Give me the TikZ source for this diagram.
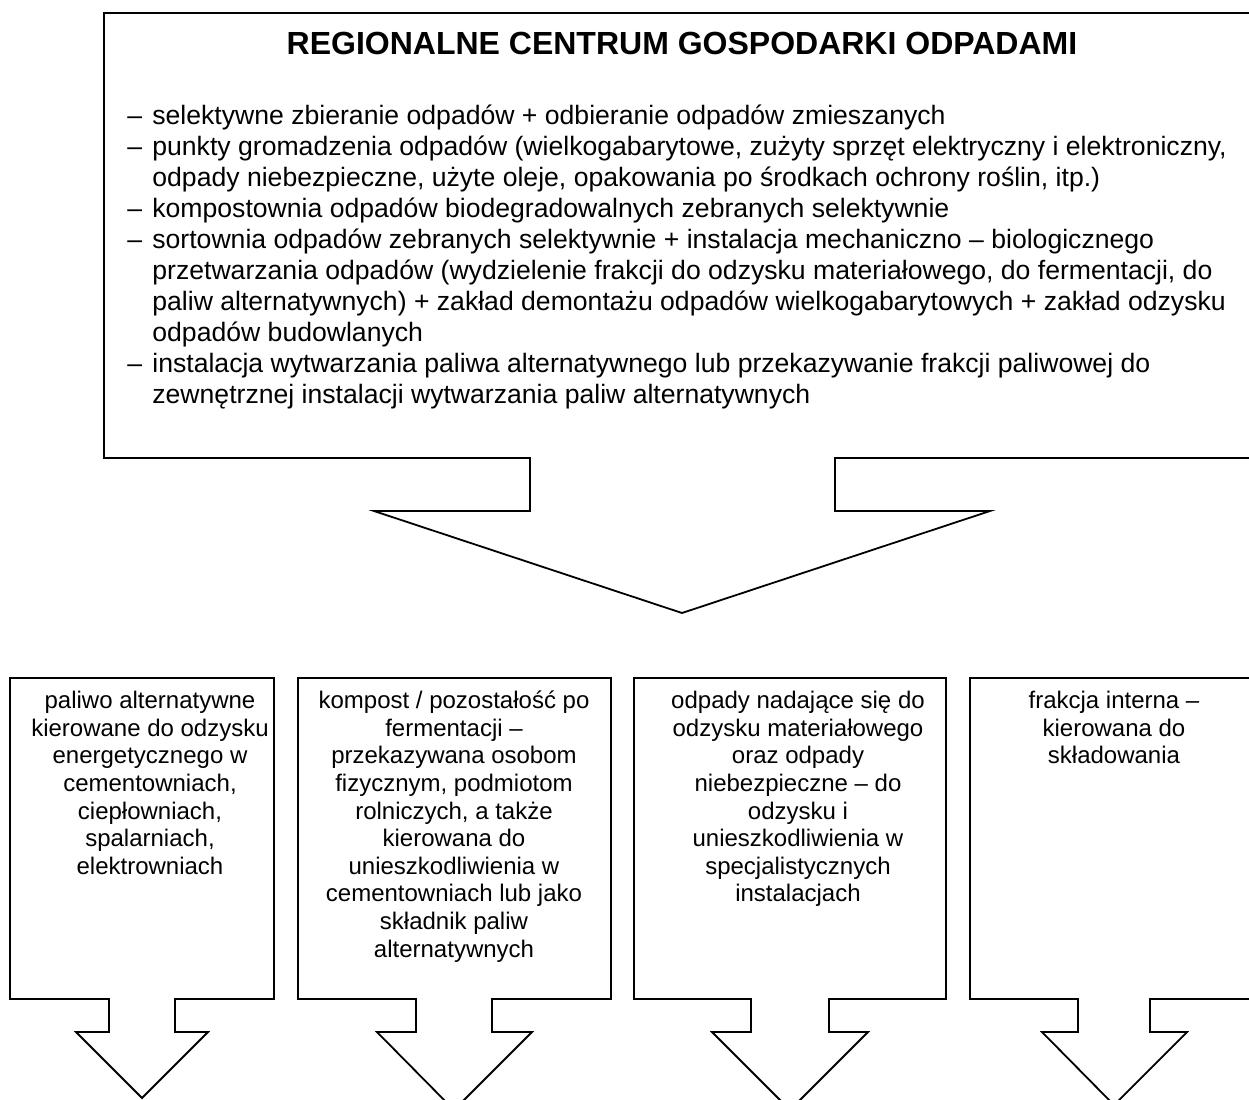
\documentclass[tikz,border=0pt]{standalone}
\usepackage{fontspec}
\setmainfont{Liberation Sans}

\tikzset{
  outline/.style={draw=black, line width=0.9pt, line join=miter},
  titletext/.style={anchor=base, inner sep=0pt, font=\fontsize{16}{19}\selectfont\bfseries},
  listtext/.style={anchor=north west, inner sep=0pt, align=left, font=\fontsize{13.3}{15.5}\selectfont},
  boxtext/.style={anchor=north, inner sep=0pt, align=center, font=\fontsize{12}{13.8}\selectfont}
}
\newcommand{\dashitem}{\makebox[12.5pt][l]{–}}
\newcommand{\itemgap}{\hspace*{12.5pt}}

\begin{document}
\begin{tikzpicture}[x=0.5pt,y=-0.5pt]
  \useasboundingbox (0,0) rectangle (1249,1099);
  \clip (0,0) rectangle (1249,1099);

  % regional centre with its big arrow
  \draw[outline] (1260,13) -- (104,13) -- (104,458) -- (530,458) -- (530,511)
        -- (374,511) -- (682,613) -- (990,511) -- (835,511) -- (835,458)
        -- (1260,458) -- cycle;
  \node[titletext] (title) at (682,54.5) {REGIONALNE CENTRUM GOSPODARKI ODPADAMI};
  \node[listtext] (tasks) at (127,102) {\strut\dashitem selektywne zbieranie odpadów + odbieranie odpadów zmieszanych\\
    \dashitem punkty gromadzenia odpadów (wielkogabarytowe, zużyty sprzęt elektryczny i elektroniczny,\\
    \itemgap odpady niebezpieczne, użyte oleje, opakowania po środkach ochrony roślin, itp.)\\
    \dashitem kompostownia odpadów biodegradowalnych zebranych selektywnie\\
    \dashitem sortownia odpadów zebranych selektywnie + instalacja mechaniczno – biologicznego\\
    \itemgap przetwarzania odpadów (wydzielenie frakcji do odzysku materiałowego, do fermentacji, do\\
    \itemgap paliw alternatywnych) + zakład demontażu odpadów wielkogabarytowych + zakład odzysku\\
    \itemgap odpadów budowlanych\\
    \dashitem instalacja wytwarzania paliwa alternatywnego lub przekazywanie frakcji paliwowej do\\
    \itemgap zewnętrznej instalacji wytwarzania paliw alternatywnych};

  % four outputs
  \draw[outline] (10,678) -- (274,678) -- (274,999) -- (175,999) -- (175,1032)
        -- (208,1032) -- (142,1098) -- (76,1032) -- (109,1032) -- (109,999)
        -- (10,999) -- cycle;
  \node[boxtext] (fuel) at (150,689) {\strut paliwo alternatywne\\ kierowane do odzysku\\
    energetycznego w\\ cementowniach,\\ ciepłowniach,\\ spalarniach,\\ elektrowniach};

  \draw[outline] (298,678) -- (611,678) -- (611,999) -- (492,999) -- (492,1032)
        -- (532,1032) -- (454,1110) -- (377,1032) -- (416,1032) -- (416,999)
        -- (298,999) -- cycle;
  \node[boxtext] (compost) at (454,689) {\strut kompost / pozostałość po\\ fermentacji –\\
    przekazywana osobom\\ fizycznym, podmiotom\\ rolniczych, a także\\ kierowana do\\
    unieszkodliwienia w\\ cementowniach lub jako\\ składnik paliw\\ alternatywnych};

  \draw[outline] (634,678) -- (946,678) -- (946,999) -- (829,999) -- (829,1032)
        -- (868,1032) -- (790,1110) -- (712,1032) -- (751,1032) -- (751,999)
        -- (634,999) -- cycle;
  \node[boxtext] (recovery) at (798,689) {\strut odpady nadające się do\\ odzysku materiałowego\\
    oraz odpady\\ niebezpieczne – do\\ odzysku i\\ unieszkodliwienia w\\
    specjalistycznych\\ instalacjach};

  \draw[outline] (970,678) -- (1260,678) -- (1260,999) -- (1150,999) -- (1150,1032)
        -- (1187,1032) -- (1114,1105) -- (1042,1032) -- (1078,1032) -- (1078,999)
        -- (970,999) -- cycle;
  \node[boxtext] (residue) at (1114,689) {\strut frakcja interna –\\ kierowana do\\ składowania};
\end{tikzpicture}
\end{document}
